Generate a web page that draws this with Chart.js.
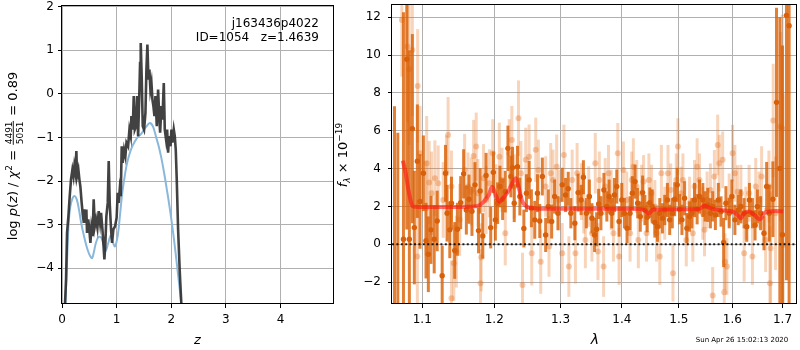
<!DOCTYPE html>
<html>
<head>
<meta charset="utf-8">
<script src="https://cdn.jsdelivr.net/npm/chart.js@4.4.0/dist/chart.umd.min.js"></script>
<style>
  html, body { margin: 0; padding: 0; background: #fff; }
  #wrap { position: relative; width: 800px; height: 350px; }
  #wrap canvas { position: absolute; left: 0; top: 0; }
</style>
</head>
<body>
<div id="wrap">
  <canvas id="pz" width="800" height="350"></canvas>
  <canvas id="spec" width="800" height="350"></canvas>
</div>
<script>
// ---- left panel: log p(z) ----
const zTicks = [0, 1, 2, 3, 4];
const logpTicks = [-4, -3, -2, -1, 0, 1, 2];

const pzZ = [0.05,0.056,0.074,0.092,0.117,0.141,0.165,0.19,0.21,0.226,
  0.245,0.263,0.275,0.30,0.318,0.336,0.36,0.38,0.40,0.41,
  0.43,0.446,0.458,0.48,0.50,0.52,0.538,0.56,0.58,0.60,
  0.623,0.648,0.672,0.697,0.715,0.74,0.757,0.776,0.794,0.812,
  0.837,0.855,0.873,0.898,0.916,0.94,0.971,1.0,1.02,1.038,
  1.057,1.075,1.093,1.11,1.136,1.16,1.18,1.21,1.234,1.258,
  1.27,1.295,1.313,1.332,1.356,1.374,1.393,1.411,1.429,1.441,
  1.46,1.478,1.502,1.527,1.545,1.563,1.582,1.6,1.618,1.637,
  1.655,1.673,1.692,1.71,1.735,1.759,1.777,1.796,1.82,1.838,
  1.863,1.881,1.905,1.924,1.942,1.96,1.985,2.003,2.021,2.046,
  2.064,2.082,2.1,2.125,2.156,2.186,2.21];
const pzLog = [-5.2,-4.79,-4.26,-3.19,-2.81,-2.35,-1.96,-1.74,-1.89,-1.66,
  -1.81,-1.31,-1.89,-1.74,-1.96,-2.12,-2.5,-2.77,-2.96,-2.65,
  -2.96,-2.65,-3.19,-2.88,-3.11,-3.42,-3.07,-3.26,-2.42,-3.04,
  -2.88,-3.07,-2.69,-2.96,-2.73,-3.11,-3.42,-3.8,-3.42,-2.81,
  -2.5,-1.54,-2.5,-3.11,-3.42,-3.11,-3.04,-2.84,-2.27,-2.5,
  -2.19,-2.35,-1.2,-1.58,-1.28,-1.43,-1.12,-1.2,-0.82,-0.97,
  -0.51,-0.82,-0.05,-0.82,-0.74,-0.05,-0.97,-0.21,0.71,1.17,
  0.33,-0.74,-0.82,-0.44,0.56,1.13,0.33,0.56,0.1,0.25,
  -0.13,-0.28,-0.51,-0.05,-0.74,0.1,-0.44,-0.89,-0.28,-0.59,
  0.25,-0.82,-1.05,-0.82,-1.35,-0.97,-1.2,-0.82,-1.12,-0.82,
  -0.97,-1.28,-1.96,-3.11,-4.1,-4.87,-5.2];

const priorZ = [0.06,0.09,0.12,0.15,0.19,0.23,0.27,0.31,0.35,0.40,
  0.45,0.50,0.55,0.58,0.62,0.67,0.72,0.77,0.80,0.84,
  0.89,0.93,0.97,1.02,1.06,1.10,1.14,1.18,1.23,1.28,
  1.33,1.38,1.42,1.46,1.50,1.55,1.59,1.62,1.67,1.72,
  1.77,1.82,1.87,1.92,1.97,2.02,2.07,2.12,2.17,2.20];
const priorLog = [-4.9,-3.9,-3.0,-2.6,-2.4,-2.34,-2.42,-2.65,-2.95,-3.25,
  -3.5,-3.68,-3.77,-3.65,-3.42,-3.28,-3.3,-3.5,-3.6,-3.45,
  -3.25,-3.4,-3.5,-3.25,-2.8,-2.3,-1.95,-1.65,-1.4,-1.22,
  -1.1,-1.0,-0.95,-0.9,-0.82,-0.74,-0.68,-0.67,-0.76,-0.98,
  -1.2,-1.48,-1.82,-2.2,-2.6,-3.05,-3.55,-4.1,-4.65,-5.0];

// ---- right panel: spectrum ----
const waveTicks = [1.1, 1.2, 1.3, 1.4, 1.5, 1.6, 1.7];
const fluxTicks = [-2, 0, 2, 4, 6, 8, 10, 12];

const darkWave = [1.0637,1.0680,1.0753,1.0796,1.0830,1.0869,1.0895,1.0935,1.0970,1.1015,
  1.1050,1.1081,1.1116,1.1160,1.1200,1.1268,1.1313,1.1335,1.1372,1.1395,
  1.1440,1.1477,1.1523,1.1564,1.1602,1.1639,1.1681,1.1723,1.1774,1.1797,
  1.1835,1.1882,1.1949,1.1987,1.2016,1.2049,1.2083,1.2122,1.2161,1.2200,
  1.2244,1.2268,1.2293,1.2342,1.2377,1.2437,1.2476,1.2516,1.2551,1.2602,
  1.2643,1.2678,1.2718,1.2769,1.2810,1.2862,1.2908,1.2960,1.3027,1.3080,
  1.3122,1.3164,1.3227,1.3280,1.3328,1.3365,1.3413,1.3462,1.3504,1.3547,
  1.3580,1.3613,1.3651,1.3700,1.3749,1.3787,1.3831,1.3876,1.3915,1.3954,
  1.3999,1.4044,1.4089,1.4140,1.4179,1.4225,1.4271,1.4316,1.4356,1.4396,
  1.4437,1.4483,1.4524,1.4570,1.4617,1.4657,1.4704,1.4745,1.4793,1.4834,
  1.4881,1.4923,1.4970,1.5012,1.5055,1.5103,1.5146,1.5194,1.5237,1.5285,
  1.5334,1.5378,1.5440,1.5483,1.5532,1.5582,1.5625,1.5676,1.5732,1.5783,
  1.5833,1.5877,1.5940,1.5992,1.6050,1.6115,1.6166,1.6230,1.6282,1.6335,
  1.6394,1.6446,1.6492,1.6557,1.6624,1.6678,1.6731,1.6804,1.6878,1.6946,
  1.7000,1.7082,1.7137];
const darkFlux = [-4.0,-3.5,0.26,9.78,0.26,6.11,0.88,4.39,2.26,3.75,
  0.19,-0.53,0.76,0.26,1.23,-1.67,3.75,1.64,0.76,2.17,
  -0.33,0.79,2.2,3.72,1.81,2.38,1.74,3.14,0.72,2.82,
  0.44,3.63,0.88,3.8,1.29,2.17,3.05,2.38,2.78,5.07,
  3.58,4.05,2.17,4.1,2.52,0.83,2.7,3.4,1.9,1.29,
  2.7,1.23,3.58,0.49,2.0,1.2,2.52,1.64,3.14,2.6,
  2.93,1.64,1.11,2.73,2.34,3.54,1.64,2.52,1.37,0.49,
  0.79,2.13,1.64,2.87,2.0,2.52,1.64,2.6,3.05,1.2,
  2.34,1.64,0.85,1.64,2.7,3.31,2.17,1.46,2.73,1.81,
  1.43,2.2,2.0,1.15,0.93,1.64,1.37,1.81,2.34,1.29,
  1.64,2.38,3.14,1.85,1.29,2.43,0.85,1.46,1.64,2.34,
  1.85,2.52,2.34,2.0,2.08,1.64,2.0,1.55,2.34,1.73,
  0.09,2.17,1.64,2.52,1.29,1.81,2.0,1.64,0.93,2.34,
  1.64,1.0,2.0,1.64,0.58,3.05,1.64,2.38,7.5,4.0,
  0.5,12.1,11.55];
const darkErr = [11.3,9.4,12,9,10,5,3,3,2.5,2,
  2,2,1.8,1.8,1.6,1.6,1.5,1.5,1.5,1.4,
  1.5,1.4,1.4,1.3,1.3,1.3,1.3,1.2,1.2,1.2,
  1.2,1.2,1.1,1.1,1.1,1.1,1.1,1.1,1.1,1.2,
  1.1,1.1,1.0,1.1,1.0,1.0,1.0,1.0,1.0,1.0,
  1.0,0.9,1.0,0.9,0.9,0.9,0.9,0.9,0.9,0.9,
  0.9,0.8,0.9,1.0,0.8,0.9,0.8,0.9,0.8,0.9,
  0.9,0.8,0.9,0.9,0.8,0.9,0.8,0.9,0.9,0.8,
  0.9,0.8,0.8,0.9,0.9,0.9,0.8,0.8,0.9,0.8,
  0.8,0.8,0.9,0.8,0.8,0.8,0.8,0.8,0.9,0.8,
  0.8,0.9,0.9,0.8,0.8,0.9,0.8,0.8,0.8,0.9,
  0.8,0.9,0.9,0.8,0.9,0.8,0.8,0.8,0.9,0.8,
  1.3,0.9,0.8,0.9,0.8,0.8,0.9,0.8,0.8,0.9,
  0.8,0.8,0.9,0.9,0.9,1.3,1.5,2.0,5.0,8.0,
  10,14,15];

const lightWave = [1.0732,1.0805,1.0826,1.0869,1.0939,1.0935,1.0970,1.1050,1.1059,1.1093,
  1.1124,1.1169,1.1214,1.1282,1.1326,1.1349,1.1395,1.1395,1.1427,1.1463,
  1.1509,1.1578,1.1625,1.1671,1.1704,1.1741,1.1765,1.1802,1.1812,1.1845,
  1.1882,1.1930,1.1978,1.2025,1.2074,1.2113,1.2161,1.2219,1.2258,1.2293,
  1.2357,1.2392,1.2417,1.2466,1.2516,1.2556,1.2617,1.2658,1.2693,1.2769,
  1.2821,1.2847,1.2883,1.2940,1.2976,1.3027,1.3054,1.3132,1.3185,1.3237,
  1.3264,1.3333,1.3370,1.3397,1.3451,1.3504,1.3558,1.3602,1.3624,1.3695,
  1.3722,1.3777,1.3821,1.3859,1.3932,1.3954,1.4027,1.4083,1.4140,1.4168,
  1.4197,1.4254,1.4282,1.4339,1.4373,1.4425,1.4466,1.4512,1.4570,1.4599,
  1.4657,1.4686,1.4745,1.4804,1.4852,1.4893,1.4952,1.4982,1.5043,1.5073,
  1.5134,1.5194,1.5255,1.5285,1.5334,1.5378,1.5440,1.5471,1.5520,1.5582,
  1.5625,1.5657,1.5720,1.5751,1.5814,1.5845,1.5858,1.5895,1.5940,1.6005,
  1.6050,1.6101,1.6166,1.6230,1.6263,1.6328,1.6394,1.6459,1.6525,1.6577,
  1.6657,1.6724,1.6744,1.6758,1.6811,1.6858,1.6960,1.6994,1.7014];
const lightFlux = [11.86,10.45,9.25,10.27,8.37,-0.65,4.81,1.9,4.28,3.26,
  2.7,3.49,3.22,2.34,3.75,5.78,-2.85,3.05,-1.0,-0.39,
  1.29,3.93,3.05,2.78,4.67,5.16,2.7,-2.06,-0.69,3.49,
  2.34,3.22,4.81,2.52,4.63,3.4,0.58,4.81,5.51,3.05,
  6.66,3.75,-2.15,4.46,4.63,-0.48,4.99,3.93,-0.92,3.05,
  -0.12,3.75,3.4,4.1,2.34,-0.48,4.72,-1.18,3.4,-0.48,
  3.75,2.78,2.17,0.23,2.52,0.58,4.28,-0.39,3.4,-1.18,
  3.05,3.75,2.34,0.58,4.81,-0.65,3.93,2.34,0.58,3.4,
  4.1,3.05,0.23,2.7,3.31,0.58,3.4,2.7,1.99,0.58,
  -0.65,3.75,1.64,3.75,2.87,-1.53,3.4,5.16,2.7,3.4,
  0.23,2.17,0.58,3.05,4.1,3.4,1.64,0.76,2.34,2.87,
  -2.71,3.58,5.25,4.28,4.46,-2.54,-0.92,-1.18,2.34,4.81,
  3.75,2.78,2.7,-0.48,1.64,2.7,-0.65,3.05,2.34,3.58,
  0.23,3.05,-2.06,-0.21,6.54,1.64,6.22,6.13,-0.04];
const lightErr = [3,4,4,3.5,3,3,2.5,2.5,2.5,2.2,
  2.2,2.0,2.0,2.0,2.0,2.0,2.0,1.9,2.0,1.9,
  1.9,1.9,1.8,1.8,1.9,1.8,1.8,1.8,1.8,1.8,
  1.8,1.8,1.8,1.7,1.8,1.7,1.7,1.8,1.8,1.7,
  2.0,1.7,1.7,1.7,1.7,1.7,1.7,1.6,1.7,1.6,
  1.6,1.6,1.6,1.7,1.6,1.6,1.6,1.6,1.6,1.6,
  1.6,1.5,1.6,1.5,1.6,1.5,1.6,1.5,1.5,1.6,
  1.5,1.5,1.6,1.5,1.6,1.5,1.5,1.5,1.5,1.5,
  1.5,1.4,1.5,1.5,1.4,1.5,1.4,1.5,1.4,1.5,
  1.5,1.5,1.4,1.5,1.4,1.5,1.4,1.5,1.4,1.4,
  1.4,1.4,1.5,1.4,1.5,1.4,1.4,1.4,1.5,1.4,
  1.5,1.4,1.6,1.5,1.5,1.5,1.5,1.5,1.4,1.5,
  1.5,1.4,1.5,1.5,1.4,1.5,1.5,1.5,1.5,1.6,
  1.7,1.9,3,3,3,3,5,6,8];

const modelWave = [1.0743,1.0780,1.0817,1.0850,1.0875,1.0950,1.1100,1.1300,1.1500,1.1700,
  1.1780,1.1850,1.1920,1.1970,1.2020,1.2074,1.2130,1.2195,1.2260,1.2317,
  1.2360,1.2410,1.2474,1.2550,1.2650,1.3000,1.3500,1.4000,1.4300,1.4400,
  1.4460,1.4540,1.5000,1.5380,1.5470,1.5564,1.5657,1.5846,1.6005,1.6101,
  1.6165,1.6229,1.6329,1.6427,1.6545,1.6625,1.6725,1.6858,1.7014];
const modelFlux = [4.42,3.8,2.88,2.25,2.0,1.97,1.97,1.97,1.97,1.99,
  2.05,2.25,2.6,3.04,2.6,2.25,2.45,2.75,3.2,3.49,
  3.0,2.3,2.0,1.92,1.88,1.87,1.87,1.87,1.86,1.78,
  1.62,1.84,1.85,1.86,2.05,1.92,1.85,1.78,1.73,1.55,
  1.37,1.64,1.73,1.55,1.32,1.64,1.73,1.76,1.73];

const FONT = 'DejaVu Sans';
Chart.defaults.font.family = FONT;
Chart.defaults.color = '#000';

const minus = (v) => (v < 0 ? '\u2212' + Math.abs(v) : String(v));
const pairs = (xs, ys) => xs.map((x, i) => ({ x, y: ys[i] }));

const gridOpts = { color: '#b0b0b0', lineWidth: 1, tickColor: '#000', tickLength: 4, tickWidth: 1 };

// keep the plot box where it is: no extra room for overflowing tick labels
const noPad = (s) => { s.paddingTop = 0; s.paddingBottom = 0; s.paddingLeft = 0; s.paddingRight = 0; };

// black box around the plot area
const frame = {
	id: 'frame',
	afterDraw(chart) {
		const { ctx, chartArea: a } = chart;
		ctx.save();
		ctx.strokeStyle = '#000';
		ctx.lineWidth = 1;
		ctx.strokeRect(Math.round(a.left) - 0.5, Math.round(a.top) + 0.5,
			Math.round(a.right - a.left) + 1, Math.round(a.bottom - a.top) - 1);
		ctx.restore();
	}
};

// vertical error bars, drawn just before each dataset's markers
const errorBars = {
	id: 'errorBars',
	beforeDatasetDraw(chart, args) {
		const ds = chart.data.datasets[args.index];
		if (!ds.errors) return;
		const { ctx, chartArea: a, scales: { x, y } } = chart;
		ctx.save();
		ctx.beginPath();
		ctx.rect(a.left, a.top, a.right - a.left, a.bottom - a.top);
		ctx.clip();
		ctx.strokeStyle = ds.errorColor;
		ctx.lineWidth = 3;
		ds.data.forEach((p, i) => {
			const px = x.getPixelForValue(p.x);
			ctx.beginPath();
			ctx.moveTo(px, y.getPixelForValue(p.y - ds.errors[i]));
			ctx.lineTo(px, y.getPixelForValue(p.y + ds.errors[i]));
			ctx.stroke();
		});
		ctx.restore();
	}
};

// text made of runs (normal / italic / small raised), rotated to read upwards
function drawRuns(ctx, runs, cx, cy) {
	ctx.save();
	ctx.translate(cx, cy);
	ctx.rotate(-Math.PI / 2);
	let total = 0;
	runs.forEach((r) => {
		ctx.font = r.font;
		r.w = r.frac
			? Math.max(ctx.measureText(r.top).width, ctx.measureText(r.bot).width) + 3
			: ctx.measureText(r.t).width;
		total += r.w;
	});
	let x = -total / 2;
	ctx.fillStyle = '#000';
	ctx.textBaseline = 'alphabetic';
	runs.forEach((r) => {
		ctx.font = r.font;
		if (r.frac) {
			ctx.textAlign = 'center';
			ctx.fillText(r.top, x + r.w / 2, -5.5);
			ctx.fillText(r.bot, x + r.w / 2, 5.5);
			ctx.fillRect(x + 1, -4.2, r.w - 2, 0.9);
		} else {
			ctx.textAlign = 'left';
			ctx.fillText(r.t, x, r.dy || 0);
		}
		x += r.w;
	});
	ctx.restore();
}

const N = '13px "' + FONT + '"';
const I = 'italic 13px "' + FONT + '"';
const S = '9px "' + FONT + '"';
const SI = 'italic 9px "' + FONT + '"';

const pzText = {
	id: 'pzText',
	afterDraw(chart) {
		const { ctx } = chart;
		ctx.save();
		ctx.fillStyle = '#000';
		ctx.font = '12px "' + FONT + '"';
		ctx.textAlign = 'right';
		ctx.fillText('j163436p4022', 319, 27);
		ctx.fillText('ID=1054   z=1.4639', 319, 41);
		ctx.font = I;
		ctx.textAlign = 'center';
		ctx.fillText('z', 197.5, 344);
		ctx.restore();
		drawRuns(ctx, [
			{ t: 'log ', font: N }, { t: 'p', font: I }, { t: '(', font: N }, { t: 'z', font: I },
			{ t: ') / ', font: N }, { t: '\u03c7', font: I }, { t: '2', font: S, dy: -5 },
			{ t: ' = ', font: N }, { frac: true, top: '4491', bot: '5051', font: S },
			{ t: ' = 0.89', font: N }
		], 17, 156);
	}
};

const specText = {
	id: 'specText',
	afterDraw(chart) {
		const { ctx } = chart;
		ctx.save();
		ctx.fillStyle = '#000';
		ctx.font = 'italic 14px "' + FONT + '"';
		ctx.textAlign = 'center';
		ctx.fillText('\u03bb', 595, 344);
		ctx.font = '7px "' + FONT + '"';
		ctx.fillText('Sun Apr 26 15:02:13 2020', 742, 342);
		ctx.restore();
		drawRuns(ctx, [
			{ t: 'f', font: I }, { t: '\u03bb', font: SI, dy: 3 },
			{ t: ' \u00d7 10', font: N }, { t: '\u221219', font: S, dy: -5 }
		], 347, 155);
	}
};

new Chart(document.getElementById('pz'), {
	type: 'line',
	data: {
		datasets: [
			{ data: pairs(pzZ, pzLog), borderColor: 'rgba(45,45,45,0.9)', borderWidth: 2.6, pointRadius: 0, tension: 0, clip: 0, order: 1 },
			{ data: pairs(priorZ, priorLog), borderColor: '#8ab8db', borderWidth: 2, pointRadius: 0, tension: 0.3, clip: 0, order: 2 }
		]
	},
	options: {
		responsive: false,
		animation: false,
		devicePixelRatio: 1,
		layout: { padding: { left: 0, top: 5, right: 467, bottom: 0 } },
		plugins: { legend: { display: false }, tooltip: { enabled: false } },
		scales: {
			x: {
				type: 'linear', min: 0, max: 4.96,
				afterBuildTicks: (s) => { s.ticks = zTicks.map((v) => ({ value: v })); },
				afterFit: (s) => { s.height = 46; noPad(s); },
				ticks: { callback: minus, font: { size: 12 }, padding: 5, maxRotation: 0, autoSkip: false },
				grid: gridOpts,
				border: { display: false }
			},
			y: {
				type: 'linear', min: -4.82, max: 2.04,
				afterBuildTicks: (s) => { s.ticks = logpTicks.map((v) => ({ value: v })); },
				afterFit: (s) => { s.width = 62; noPad(s); },
				ticks: { callback: minus, font: { size: 12 }, padding: 4, autoSkip: false },
				grid: gridOpts,
				border: { display: false }
			}
		}
	},
	plugins: [frame, pzText]
});

new Chart(document.getElementById('spec'), {
	type: 'scatter',
	data: {
		datasets: [
			{
				data: pairs(lightWave, lightFlux), errors: lightErr, errorColor: 'rgba(230,120,40,0.32)',
				pointRadius: 3, pointBorderWidth: 0, backgroundColor: 'rgba(225,110,30,0.35)', clip: 0, order: 4
			},
			{
				data: pairs(darkWave, darkFlux), errors: darkErr, errorColor: 'rgba(217,95,2,0.8)',
				pointRadius: 2.7, pointBorderWidth: 0, backgroundColor: '#d8600a', clip: 0, order: 3
			},
			{
				type: 'line', data: pairs(modelWave, modelFlux), borderColor: 'rgba(255,20,20,0.6)', borderWidth: 4,
				pointRadius: 0, cubicInterpolationMode: 'monotone', clip: 0, order: 2
			},
			{
				type: 'line', data: [{ x: 1.0605, y: 0 }, { x: 1.728, y: 0 }], borderColor: 'rgba(0,0,0,0.85)', borderWidth: 2,
				borderDash: [2, 2.4], pointRadius: 0, clip: 0, order: 1
			}
		]
	},
	options: {
		responsive: false,
		animation: false,
		devicePixelRatio: 1,
		layout: { padding: { left: 0, top: 4, right: 1, bottom: 0 } },
		plugins: { legend: { display: false }, tooltip: { enabled: false } },
		scales: {
			x: {
				type: 'logarithmic', min: 1.0605, max: 1.728,
				afterBuildTicks: (s) => { s.ticks = waveTicks.map((v) => ({ value: v })); },
				afterFit: (s) => { s.height = 46; noPad(s); },
				ticks: { callback: (v) => Number(v).toFixed(1), font: { size: 12 }, padding: 5, maxRotation: 0, autoSkip: false },
				grid: gridOpts,
				border: { display: false }
			},
			y: {
				type: 'linear', min: -3.16, max: 12.7,
				afterBuildTicks: (s) => { s.ticks = fluxTicks.map((v) => ({ value: v })); },
				afterFit: (s) => { s.width = 392; noPad(s); },
				ticks: { callback: minus, font: { size: 12 }, padding: 7, autoSkip: false },
				grid: gridOpts,
				border: { display: false }
			}
		}
	},
	plugins: [errorBars, frame, specText]
});
</script>
</body>
</html>
